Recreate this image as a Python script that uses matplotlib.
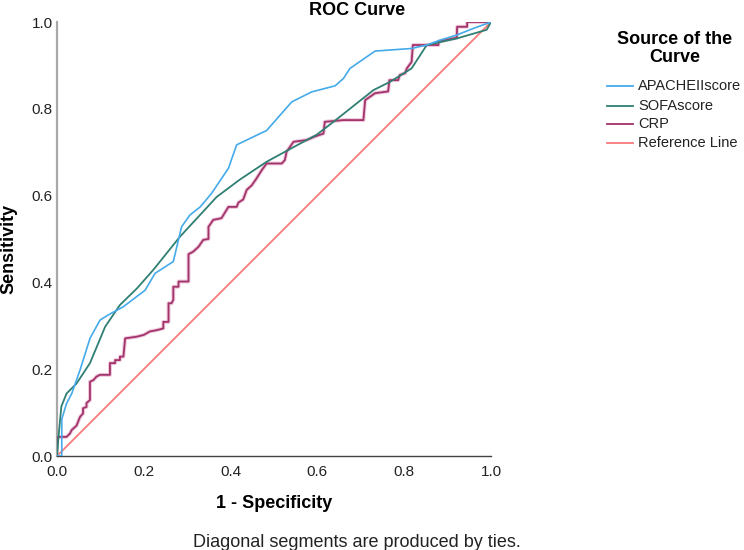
import matplotlib
matplotlib.use("Agg")
import matplotlib.pyplot as plt
from matplotlib.lines import Line2D

plt.rcParams['font.family'] = ['Liberation Sans', 'DejaVu Sans']

# ---- data ----
apache_x = [0, 0.011, 0.011, 0.022, 0.034, 0.053, 0.076, 0.099, 0.118, 0.153, 0.203, 0.226,
            0.268, 0.287, 0.306, 0.330, 0.356, 0.395, 0.414, 0.483, 0.541, 0.587, 0.641,
            0.660, 0.675, 0.714, 0.733, 0.817, 0.852, 0.882, 0.921, 0.959, 1.0]
apache_y = [0, 0, 0.085, 0.121, 0.144, 0.198, 0.271, 0.313, 0.325, 0.344, 0.382, 0.421,
            0.448, 0.528, 0.555, 0.574, 0.605, 0.663, 0.717, 0.750, 0.816, 0.839, 0.853,
            0.870, 0.893, 0.920, 0.933, 0.939, 0.947, 0.958, 0.970, 0.985, 1.0]

sofa_x = [0, 0.004, 0.010, 0.022, 0.045, 0.076, 0.111, 0.145, 0.184, 0.222, 0.283, 0.368,
          0.420, 0.483, 0.540, 0.598, 0.637, 0.729, 0.767, 0.817, 0.852, 0.921, 0.990, 1.0]
sofa_y = [0, 0.050, 0.114, 0.144, 0.167, 0.214, 0.298, 0.348, 0.386, 0.429, 0.505, 0.597,
          0.636, 0.678, 0.709, 0.740, 0.770, 0.843, 0.862, 0.893, 0.947, 0.962, 0.982, 1.0]

crp_x = [0, 0, 0.022, 0.030, 0.034, 0.045, 0.053, 0.060, 0.060, 0.068, 0.068, 0.076, 0.076,
         0.084, 0.091, 0.099, 0.122, 0.122, 0.134, 0.134, 0.145, 0.145, 0.153, 0.157, 0.184,
         0.200, 0.214, 0.230, 0.245, 0.245, 0.257, 0.257, 0.264, 0.268, 0.268, 0.280, 0.280,
         0.303, 0.303, 0.314, 0.326, 0.337, 0.349, 0.349, 0.360, 0.379, 0.395, 0.414, 0.418,
         0.429, 0.437, 0.449, 0.460, 0.472, 0.483, 0.518, 0.525, 0.529, 0.545, 0.575, 0.594,
         0.614, 0.617, 0.660, 0.706, 0.710, 0.733, 0.763, 0.766, 0.786, 0.790, 0.802, 0.806,
         0.817, 0.820, 0.879, 0.879, 0.921, 0.922, 0.945, 0.945, 1.0]
crp_y = [0, 0.044, 0.044, 0.052, 0.060, 0.070, 0.090, 0.098, 0.110, 0.113, 0.122, 0.129, 0.171,
         0.175, 0.183, 0.187, 0.187, 0.214, 0.214, 0.221, 0.221, 0.229, 0.229, 0.271, 0.275,
         0.279, 0.287, 0.290, 0.294, 0.309, 0.309, 0.352, 0.352, 0.360, 0.390, 0.390, 0.402,
         0.402, 0.465, 0.471, 0.482, 0.498, 0.500, 0.528, 0.544, 0.548, 0.574, 0.574, 0.584,
         0.591, 0.613, 0.624, 0.640, 0.659, 0.674, 0.674, 0.682, 0.701, 0.724, 0.728, 0.736,
         0.743, 0.770, 0.774, 0.774, 0.820, 0.836, 0.840, 0.866, 0.866, 0.878, 0.882, 0.893,
         0.908, 0.947, 0.947, 0.955, 0.964, 0.989, 0.989, 1.0, 1.0]

ref_x = [0, 1]
ref_y = [0, 1]

series_names = ["APACHEIIscore", "SOFAscore", "CRP", "Reference Line"]
colors = ["#45AAEA", "#2F7F73", "#A3336B", "#F87A7A"]
ticks = [0.0, 0.2, 0.4, 0.6, 0.8, 1.0]
tick_labels = ["0.0", "0.2", "0.4", "0.6", "0.8", "1.0"]

W, H = 744, 550

def fx(px):
    return px / W

def fy(py):
    return 1 - py / H

# ---- figure ----
fig = plt.figure(figsize=(7.44, 5.5), dpi=100)
ax = fig.add_axes([fx(57), fy(456), 434 / W, 434 / H])

ax.plot(ref_x, ref_y, color=colors[3], lw=1.3, zorder=1)
ax.plot(crp_x, crp_y, color="#E2A3C2", lw=2.8, alpha=0.6, zorder=2)
ax.plot(crp_x, crp_y, color=colors[2], lw=1.3, zorder=3)
ax.plot(sofa_x, sofa_y, color=colors[1], lw=1.3, zorder=4)
ax.plot(apache_x, apache_y, color=colors[0], lw=1.2, zorder=5)

ax.set_xlim(0, 1)
ax.set_ylim(0, 1)
ax.set_xticks(ticks)
ax.set_xticklabels(tick_labels)
ax.set_yticks(ticks)
ax.set_yticklabels(tick_labels)
ax.tick_params(axis='both', length=0, labelsize=11, colors='#222222')
ax.tick_params(axis='y', pad=3)
ax.tick_params(axis='x', pad=6.5)

for s in ['top', 'right']:
    ax.spines[s].set_visible(False)
ax.spines['left'].set_color('#A8A8A8')
ax.spines['left'].set_linewidth(1.6)
ax.spines['bottom'].set_color('#444444')
ax.spines['bottom'].set_linewidth(1.0)

ax.set_xlabel("1 - Specificity", fontsize=13, fontweight='bold')
ax.xaxis.label.set_va('baseline')
ax.xaxis.set_label_coords(0.5, (456 - 508) / 434)
ax.set_ylabel("Sensitivity", fontsize=13, fontweight='bold')
ax.yaxis.label.set_va('center')
ax.yaxis.set_label_coords((9 - 57) / 434, (456 - 249) / 434)

fig.text(fx(357), fy(15), "ROC Curve", ha='center', va='baseline',
         fontsize=13, fontweight='bold')
fig.text(fx(357), fy(547), "Diagonal segments are produced by ties.",
         ha='center', va='baseline', fontsize=13, color='#222222')

# legend, built by hand for exact placement
fig.text(fx(675), fy(39), "Source of the", ha='center', va='center',
         fontsize=13, fontweight='bold')
fig.text(fx(675), fy(58), "Curve", ha='center', va='center',
         fontsize=13, fontweight='bold')
for i, (name, c) in enumerate(zip(series_names, colors)):
    yy = [86, 106, 124, 143][i]
    fig.add_artist(Line2D([fx(607), fx(633)], [fy(yy), fy(yy)], color=c, lw=1.3,
                          transform=fig.transFigure))
    fig.text(fx(638), fy(yy), name, ha='left', va='center', fontsize=10.5,
             color='#222222')

fig.savefig("out.png", dpi=100)
